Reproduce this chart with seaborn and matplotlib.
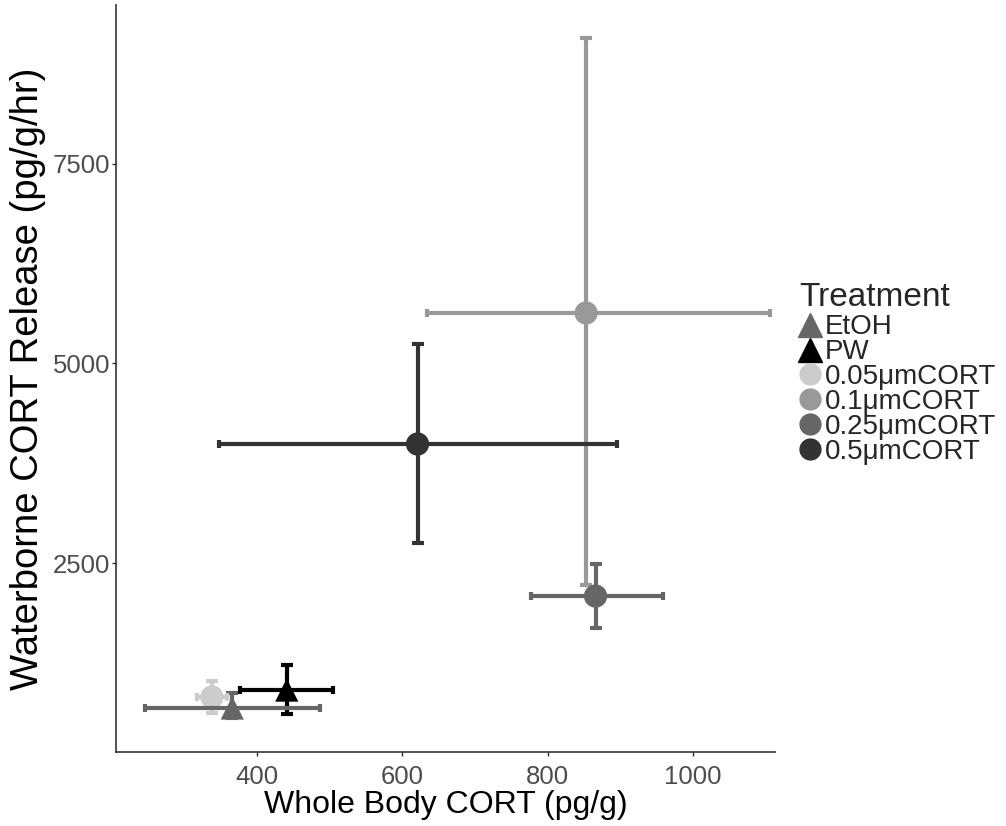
import matplotlib
matplotlib.use("Agg")
import matplotlib.pyplot as plt
from matplotlib.lines import Line2D
import seaborn as sns
import pandas as pd

treatments = ["EtOH", "PW", "0.05μmCORT", "0.1μmCORT", "0.25μmCORT", "0.5μmCORT"]
whole_body = [366, 441, 338, 853, 866, 621]
whole_lo = [246, 377, 317, 634, 777, 348]
whole_hi = [487, 505, 359, 1106, 959, 895]
release = [683, 908, 821, 5633, 2086, 3991]
release_lo = [558, 608, 620, 2224, 1685, 2751]
release_hi = [871, 1222, 1021, 9079, 2487, 5244]

colors = ["#666666", "#000000", "#CCCCCC", "#999999", "#666666", "#333333"]
shapes = ["^", "^", "o", "o", "o", "o"]

x_ticks = [400, 600, 800, 1000]
y_ticks = [2500, 5000, 7500]

df = pd.DataFrame({
    "Treatment": treatments,
    "x": whole_body, "xlo": whole_lo, "xhi": whole_hi,
    "y": release, "ylo": release_lo, "yhi": release_hi,
})

sns.set_theme(style="white")
plt.rcParams["font.family"] = ["Liberation Sans", "DejaVu Sans"]

fig = plt.figure(figsize=(10.06, 8.26), dpi=100)
ax = fig.add_axes([116 / 1006, 1 - 752 / 826, (775 - 116) / 1006, (752 - 5) / 826])

palette = dict(zip(treatments, colors))
markers = dict(zip(treatments, shapes))

# vertical error bars (under points)
for _, r in df.iterrows():
    ax.errorbar(r["x"], r["y"], yerr=[[r["y"] - r["ylo"]], [r["yhi"] - r["y"]]],
                fmt="none", ecolor=palette[r["Treatment"]], elinewidth=3,
                capsize=4, capthick=3, zorder=2)

sns.scatterplot(data=df, x="x", y="y", hue="Treatment", style="Treatment",
                palette=palette, markers=markers, s=280, linewidth=0,
                legend=False, ax=ax, zorder=3)

# horizontal error bars (over points)
for _, r in df.iterrows():
    ax.errorbar(r["x"], r["y"], xerr=[[r["x"] - r["xlo"]], [r["xhi"] - r["x"]]],
                fmt="none", ecolor=palette[r["Treatment"]], elinewidth=3,
                capsize=3, capthick=3, zorder=4)

ax.set_xlim(206, 1113)
ax.set_ylim(132, 9492)
ax.set_xticks(x_ticks)
ax.set_yticks(y_ticks)
ax.tick_params(axis="both", labelsize=18.5, labelcolor="#4D4D4D", colors="#333333",
               length=3, width=1, direction="out", bottom=True, left=True)
ax.tick_params(axis="x", pad=6, labelcolor="#4D4D4D")
ax.tick_params(axis="y", pad=1, labelcolor="#4D4D4D")
for s in ["top", "right"]:
    ax.spines[s].set_visible(False)
for s in ["left", "bottom"]:
    ax.spines[s].set_color("#333333")
    ax.spines[s].set_linewidth(1.2)
ax.grid(False)
ax.set_xlabel("Whole Body CORT (pg/g)", fontsize=23, color="black", labelpad=1)
ax.set_ylabel("Waterborne CORT Release (pg/g/hr)", fontsize=27.5, color="black", labelpad=5)

handles = [Line2D([0], [0], marker=m, linestyle="none", markerfacecolor=c,
                  markeredgecolor=c, markersize=17 if m == "^" else 15)
           for m, c in zip(shapes, colors)]
leg = fig.legend(handles, treatments, title="Treatment", loc="upper left",
                 bbox_to_anchor=(799 / 1006, 1 - 282 / 826), frameon=False,
                 fontsize=20, title_fontsize=24, handlelength=0.8,
                 handletextpad=0.12, labelspacing=-0.04, borderaxespad=0,
                 borderpad=0)
leg._legend_box.align = "left"
leg._legend_box.sep = 1

fig.savefig("out.png", dpi=100)
